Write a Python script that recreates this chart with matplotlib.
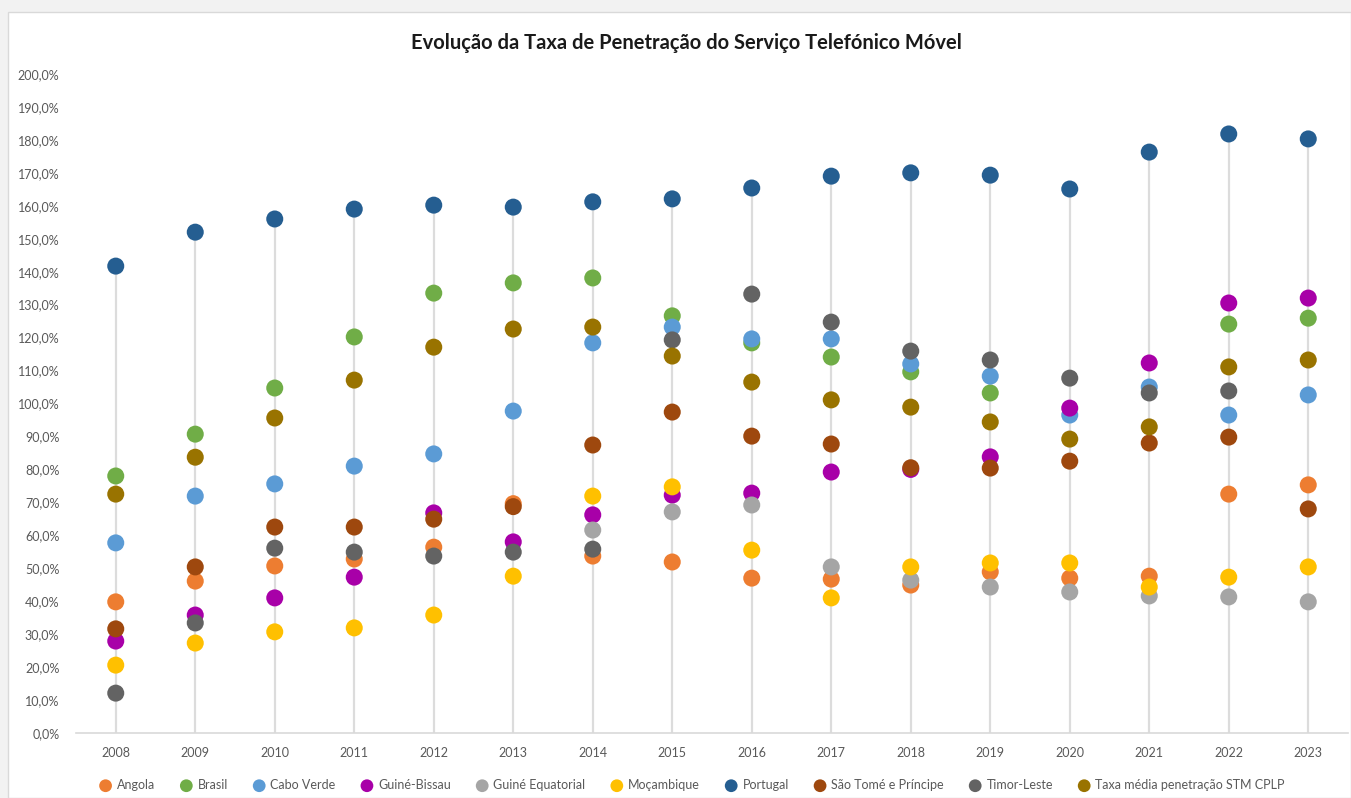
import numpy as np
import matplotlib
matplotlib.use("Agg")
import matplotlib.pyplot as plt
from matplotlib.patches import Rectangle

# dados (taxa de penetração, %)
anos = ["2008", "2009", "2010", "2011", "2012", "2013", "2014", "2015",
        "2016", "2017", "2018", "2019", "2020", "2021", "2022", "2023"]
nan = np.nan

angola = [39.8, 46.1, 50.7, 52.8, 56.4, 69.6, 53.7, 51.9, 47.0, 46.7, 44.9, 48.9, 47.0, 47.6, 72.5, 75.3]
brasil = [78.0, 90.7, 104.7, 120.2, 133.5, 136.6, 138.1, 126.6, 118.4, 114.1, 109.6, 103.2, nan, nan, 124.1, 125.9]
cabo_verde = [57.7, 71.9, 75.6, 81.0, 84.7, 97.7, 118.4, 123.2, 119.6, 119.6, 112.0, 108.3, 96.5, 105.0, 96.5, 102.6]
guine_bissau = [27.9, 35.8, 41.0, 47.3, 66.8, 58.0, 66.2, 72.2, 72.8, 79.2, 80.0, 83.8, 98.6, 112.3, 130.5, 132.0]
guine_equatorial = [nan, nan, nan, nan, nan, nan, 61.6, 67.1, 69.2, 50.4, 46.4, 44.3, 42.8, 41.6, 41.3, 39.8]
mocambique = [20.6, 27.3, 30.7, 31.9, 35.8, 47.6, 71.9, 74.7, 55.5, 41.0, 50.4, 51.6, 51.6, 44.3, 47.3, 50.4]
portugal = [141.7, 152.0, 156.0, 159.0, 160.2, 159.6, 161.2, 162.1, 165.4, 169.0, 170.0, 169.3, 165.1, 176.3, 181.8, 180.3]
sao_tome = [31.6, 50.4, 62.5, 62.5, 64.9, 68.7, 87.4, 97.4, 90.1, 87.7, 80.5, 80.4, 82.5, 88.0, 89.8, 68.0]
timor = [12.1, 33.4, 56.1, 54.9, 53.7, 54.9, 55.8, 119.3, 133.2, 124.7, 115.9, 113.2, 107.7, 103.2, 103.8, nan]
media_cplp = [72.5, 83.7, 95.6, 107.1, 117.1, 122.6, 123.2, 114.4, 106.5, 101.1, 98.9, 94.4, 89.2, 92.9, 111.1, 113.2]

series = [
    ("Angola", angola, "#ED7D31"),
    ("Brasil", brasil, "#70AD47"),
    ("Cabo Verde", cabo_verde, "#5B9BD5"),
    ("Guiné-Bissau", guine_bissau, "#A800A8"),
    ("Guiné Equatorial", guine_equatorial, "#A5A5A5"),
    ("Moçambique", mocambique, "#FFC000"),
    ("Portugal", portugal, "#255E91"),
    ("São Tomé e Príncipe", sao_tome, "#9E480E"),
    ("Timor-Leste", timor, "#636363"),
    ("Taxa média penetração STM CPLP", media_cplp, "#997300"),
]

plt.rcParams["font.family"] = ["Lato", "DejaVu Sans"]
cinza = "#595959"

fig = plt.figure(figsize=(13.51, 7.98), dpi=100)
fig.patch.set_facecolor("#f2f2f2")
fig.add_artist(Rectangle((8 / 1351, 0), 1 - 8 / 1351, 1 - 12 / 798,
                         transform=fig.transFigure, facecolor="white",
                         edgecolor="#d9d9d9", linewidth=1, zorder=0))

ax = fig.add_axes([76 / 1351, 65 / 798, 1272 / 1351, 659 / 798])
ax.set_facecolor("none")
x = np.arange(len(anos))

# linhas de queda: do valor máximo de cada ano até ao eixo
topo = np.nanmax(np.array([s[1] for s in series], dtype=float), axis=0)
ax.vlines(x, 0, topo, color="#dcdcdc", linewidth=1.6, zorder=1)

for nome, valores, cor in series:
    ax.scatter(x, valores, s=150, color=cor, label=nome, zorder=3,
               edgecolors="none")

ax.set_xlim(-0.5, len(anos) - 0.5)
ax.set_ylim(0, 200)
ax.set_xticks(x)
ax.set_xticklabels(anos)
ax.set_yticks(np.arange(0, 201, 10))
ax.set_yticklabels([f"{v},0%" for v in range(0, 201, 10)])
ax.tick_params(axis="both", length=0, labelsize=9, colors=cinza)
ax.tick_params(axis="x", pad=10)
ax.tick_params(axis="y", pad=12)
for lado in ["top", "right", "left"]:
    ax.spines[lado].set_visible(False)
ax.spines["bottom"].set_color("#d9d9d9")
ax.spines["bottom"].set_linewidth(1.2)

fig.text(0.508, 1 - 43 / 798,
         "Evolução da Taxa de Penetração do Serviço Telefónico Móvel",
         ha="center", va="center", fontsize=14.5, fontweight="bold",
         color="#1a1a1a")

leg = fig.legend(loc="center", bbox_to_anchor=(0.51, 1 - 785 / 798), ncol=10,
                 frameon=False, fontsize=9, handletextpad=-0.1,
                 columnspacing=1.5, markerscale=0.75, borderpad=0)
for t in leg.get_texts():
    t.set_color(cinza)

fig.savefig("out.png", dpi=100, facecolor=fig.get_facecolor())
